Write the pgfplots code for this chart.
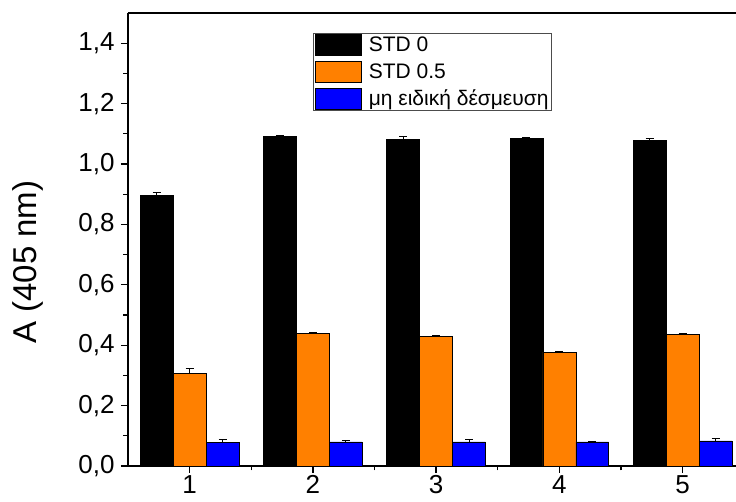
\documentclass[border=0pt]{standalone}
\usepackage{fontspec}
\setmainfont{Liberation Sans}
\usepackage{pgfplots}
\pgfplotsset{compat=1.18}
\definecolor{barorange}{RGB}{255,128,0}
\definecolor{barblue}{RGB}{0,0,255}
\pgfplotsset{
  swatch/.style={legend image code/.code={\draw[#1, draw=black, line width=0.6pt] (0pt,-10.5pt) rectangle (46pt,10.5pt);}},
}
\begin{document}
\begin{tikzpicture}
\begin{axis}[
  name=ax, at={(0,0)}, anchor=south west,
  scale only axis, width=608pt, height=453pt,
  xmin=0.5, xmax=5.433, ymin=0, ymax=1.5,
  axis lines*=left,
  axis line style={-, line width=1.5pt},
  xtick={1,2,3,4,5}, minor xtick={1.5,2.5,3.5,4.5},
  ytick={0,0.2,...,1.41}, minor ytick={0.1,0.3,...,1.35},
  tick align=outside,
  major tick length=7pt, minor tick length=4.5pt,
  tick style={line width=1.3pt, black},
  /pgf/number format/assume math mode=true,
  /pgf/number format/use comma,
  yticklabel style={xshift=-3pt, /pgf/number format/fixed, /pgf/number format/fixed zerofill, /pgf/number format/precision=1},
  ticklabel style={font=\fontsize{26}{30}\selectfont},
  xticklabel style={yshift=-1pt, inner ysep=1pt},
  ylabel={A (405 nm)},
  every axis y label/.style={at={(rel axis cs:-0.1645,0.45)}, rotate=90, anchor=center, font=\fontsize{33}{38}\selectfont},
  legend style={at={(axis cs:2.0,1.434)}, anchor=north west, draw=black!70, line width=0.8pt,
    font=\fontsize{21}{24}\selectfont, inner xsep=2pt, inner ysep=1pt, row sep=5pt, column sep=6pt,
    nodes={inner xsep=1pt, inner ysep=1pt}},
  legend cell align=left,
  ybar, bar width=0.267,
  error bars/y dir=plus, error bars/y explicit,
  error bars/error bar style={line width=0.7pt, black},
  error bars/error mark options={rotate=90, mark size=4pt, line width=0.7pt, black},
]
% mean absorbance with upper standard deviation
\addplot[fill=black, draw=black, line width=0.6pt, bar shift=-0.267, swatch] coordinates {
  (1,0.896) +- (0,0.009)
  (2,1.092) +- (0,0.002)
  (3,1.081) +- (0,0.010)
  (4,1.085) +- (0,0.004)
  (5,1.077) +- (0,0.009)
};
\addplot[fill=barorange, draw=black, line width=0.6pt, bar shift=0, swatch] coordinates {
  (1,0.306) +- (0,0.017)
  (2,0.439) +- (0,0.002)
  (3,0.428) +- (0,0.004)
  (4,0.377) +- (0,0.002)
  (5,0.437) +- (0,0.002)
};
\addplot[fill=barblue, draw=black, line width=0.6pt, bar shift=0.267, swatch] coordinates {
  (1,0.077) +- (0,0.011)
  (2,0.080) +- (0,0.006)
  (3,0.080) +- (0,0.009)
  (4,0.080) +- (0,0.002)
  (5,0.083) +- (0,0.007)
};
\legend{STD 0, STD 0.5, μη ειδική δέσμευση\hspace{5pt}}
\draw[line width=1.5pt] (rel axis cs:0,1) -- (rel axis cs:1,1);
\end{axis}
\pgfresetboundingbox
\path (-128pt,-36pt) rectangle (608pt,466pt);
\end{tikzpicture}
\end{document}
